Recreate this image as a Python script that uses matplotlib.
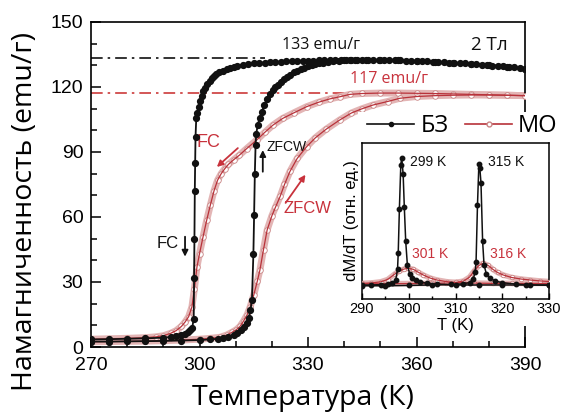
import matplotlib
matplotlib.use("Agg")
import matplotlib.pyplot as plt
from matplotlib.lines import Line2D
from matplotlib.patches import Rectangle
from matplotlib.ticker import MultipleLocator

# --- main panel: M(T), 2 T ---
# БЗ (bulk), FC cooling branch
bz_fc_t = [390, 388.5, 387, 385.5, 384, 382.5, 381, 379.5, 378, 376.5, 375, 373.5, 372, 370.5,
           369, 367.5, 366, 364.5, 363, 361.5, 360, 358.5, 357, 355.5, 354, 352.5, 351, 349.5,
           348, 346.5, 345, 343.5, 342, 340.5, 339, 337.5, 336, 334.5, 333, 331.5, 330, 328.5,
           327, 325.5, 324, 322.5, 321, 319.5, 318, 316.5, 315, 313.5, 312, 310.5, 309.5, 308.5,
           307.5, 306.5, 305.5, 304.7, 304, 303.4, 302.8, 302.2, 301.6, 301.1, 300.6, 300.2,
           299.8, 299.4, 299.1, 298.9, 298.8, 298.7, 298.6, 298.5, 298.4, 298.0, 297.4, 296.8,
           296, 295, 293.5, 292, 290, 285, 280, 275, 270]
bz_fc_m = [128.5, 128.8, 129.0, 129.3, 129.5, 129.7, 129.9, 130.1, 130.3, 130.5, 130.7, 130.9,
           131.0, 131.2, 131.3, 131.5, 131.6, 131.7, 131.8, 131.9, 132.0, 132.1, 132.2, 132.3,
           132.3, 132.4, 132.4, 132.5, 132.5, 132.5, 132.5, 132.5, 132.5, 132.5, 132.5, 132.4,
           132.4, 132.3, 132.3, 132.2, 132.2, 132.1, 132.0, 131.9, 131.8, 131.7, 131.6, 131.4,
           131.3, 131.1, 130.9, 130.6, 130.2, 129.7, 129.2, 128.7, 128.2, 127.5, 126.7, 125.9,
           125.0, 124.1, 122.8, 121.4, 119.7, 118.0, 115.8, 113.5, 110.8, 108.0, 105.5, 97, 85,
           72, 50, 32, 13, 9, 7.8, 7.0, 6.2, 5.5, 5.0, 4.6, 4.3, 4.0, 3.8, 3.6, 3.5]
# БЗ, ZFCW heating branch
bz_zf_t = [270, 275, 280, 285, 290, 295, 300, 303, 305, 306.5, 308, 309.5, 310.5, 311.5,
           312.3, 313, 313.6, 314.1, 314.5, 314.9, 315.1, 315.3, 315.5, 315.7, 316.1, 316.6,
           317.2, 317.9, 318.7, 319.5, 320.4, 321, 321.7, 322.5, 323.3, 324.1, 325, 326, 327,
           328, 329, 330, 331, 332, 333, 334.2, 335.5, 337, 338.5, 340, 341.5, 343, 346, 350,
           355, 360, 365, 370, 375, 380, 385, 390]
bz_zf_m = [2.5, 2.5, 2.6, 2.7, 2.8, 3.0, 3.2, 3.5, 3.8, 4.2, 4.8, 5.6, 6.5, 7.8, 9.2, 11,
           13.5, 17, 21.7, 43, 61, 80, 93, 98.5, 102.5, 105.5, 108.5, 111.5, 114.3, 116.6,
           118.6, 119.8, 121.0, 122.4, 123.5, 124.5, 125.7, 126.7, 127.6, 128.3, 128.9, 129.5,
           130.0, 130.5, 130.9, 131.3, 131.7, 132.0, 132.2, 132.4, 132.5, 132.5, 132.5, 132.4,
           132.3, 132.0, 131.6, 131.2, 130.7, 130.3, 129.4, 128.5]
# МО (ribbon), FC cooling branch
mo_fc_t = [390, 385, 380, 375, 370, 365, 360, 355, 350, 345, 341.6, 338.8, 336, 333, 329.6,
           326, 323, 320.3, 318, 315.8, 313, 311, 309.5, 308, 307, 306, 305, 304, 303, 302,
           301, 300, 299.3, 298.6, 297.9, 297, 296, 295, 293.5, 292, 290, 288, 285, 280,
           275, 270]
mo_fc_m = [116.0, 116.2, 116.4, 116.6, 116.8, 117.0, 117.1, 117.2, 117.2, 117.0, 116.6,
           115.5, 114.5, 113.0, 110.9, 108.0, 105.5, 102.4, 99.0, 95.5, 91.5, 88.5, 86.5,
           84.3, 82.3, 80.0, 77.0, 72.0, 65.5, 58.6, 51.0, 43.0, 37.0, 27.0, 18.5, 14.0,
           11.5, 9.5, 7.5, 6.3, 5.2, 4.7, 4.3, 4.0, 3.8, 3.6]
# МО, ZFCW heating branch
mo_zf_t = [270, 275, 280, 285, 290, 295, 300, 303, 305.7, 307.5, 309, 310.2, 311.2, 312.2,
           313.2, 314, 315, 316, 316.7, 317.7, 318.7, 320, 321, 322.3, 323.5, 325, 327,
           329.6, 332, 335, 338.8, 342, 345, 348, 352, 355.4, 360, 365, 370, 375, 380, 385, 390]
mo_zf_m = [2.4, 2.5, 2.6, 2.7, 2.9, 3.2, 3.6, 4.0, 4.5, 5.5, 6.8, 8.0, 9.5, 12.0, 15.0,
           18.5, 24.0, 30.5, 35.5, 45.0, 54.0, 60.5, 64.5, 69.5, 75.0, 81.0, 87.0, 92.4,
           96.5, 100.5, 104.8, 108.0, 110.0, 111.7, 113.3, 114.8, 115.6, 116.0, 116.2,
           116.3, 116.3, 116.2, 116.0]

M_SAT_BZ, M_SAT_MO = 133.4, 117.4

# --- inset: dM/dT (arb. units) ---
in_bz_fc_t = [290, 292, 294, 295.5, 296.5, 297.2, 297.6, 297.75, 298.0, 298.3, 298.5, 298.8,
              299.05, 299.35, 299.7, 300.2, 300.8, 301.5, 302.5, 304, 306, 310, 315, 320, 325, 330]
in_bz_fc_d = [0.09, 0.09, 0.092, 0.095, 0.10, 0.12, 0.19, 0.295, 0.58, 0.86, 0.906, 0.80,
              0.59, 0.37, 0.22, 0.16, 0.135, 0.12, 0.11, 0.10, 0.095, 0.09, 0.09, 0.09, 0.09, 0.09]
in_bz_zf_t = [290, 295, 300, 305, 309, 311.5, 313, 313.8, 314.2, 314.4, 314.7, 315.0, 315.2,
              315.45, 315.8, 316.1, 316.6, 317.3, 318.5, 320, 323, 326, 330]
in_bz_zf_d = [0.085, 0.085, 0.087, 0.09, 0.093, 0.097, 0.105, 0.13, 0.17, 0.24, 0.60, 0.863,
              0.84, 0.745, 0.37, 0.22, 0.16, 0.135, 0.115, 0.105, 0.095, 0.09, 0.088]
in_mo_fc_t = [290, 292, 294, 295.5, 297, 298, 299, 299.9, 301, 302, 303.1, 304.5, 306, 308.1,
              310, 314, 318, 322, 326, 330]
in_mo_fc_d = [0.10, 0.103, 0.11, 0.125, 0.16, 0.18, 0.192, 0.197, 0.19, 0.172, 0.154, 0.135,
              0.122, 0.111, 0.106, 0.102, 0.10, 0.10, 0.10, 0.10]
in_mo_zf_t = [290, 295, 300, 305, 308, 310, 311.7, 313, 314, 315, 315.9, 317, 318, 319, 320.2,
              322, 324, 325.9, 328, 330]
in_mo_zf_d = [0.098, 0.098, 0.099, 0.10, 0.102, 0.106, 0.115, 0.14, 0.18, 0.215, 0.229, 0.215,
              0.19, 0.17, 0.154, 0.138, 0.128, 0.122, 0.116, 0.112]

BLACK = "#111111"
RED = "#c8323c"
RED_LINE = "#b8323a"
PINK = "#e3b5b5"
PINK_E = "#c98585"
ARIAL = ["Liberation Sans", "DejaVu Sans"]
CALIBRI = ["Open Sans", "DejaVu Sans"]

plt.rcParams["font.family"] = ARIAL
W, H = 563, 412


def ribbon(a, t, m, width, ms):
    a.plot(t, m, color=PINK, lw=width, solid_capstyle="round", zorder=2)
    a.plot(t, m, "o", ms=ms, mfc="white", mec=PINK_E, mew=0.6, zorder=3)
    a.plot(t, m, color=RED_LINE, lw=0.9, zorder=4)


def beads(a, t, m, ms):
    a.plot(t, m, color=BLACK, lw=1.3, marker="o", ms=ms, mfc=BLACK, mec=BLACK, zorder=5)


fig = plt.figure(figsize=(W / 100, H / 100), dpi=100)
ax = fig.add_axes([91 / W, 1 - 347 / H, 434 / W, 325 / H])

ribbon(ax, mo_fc_t, mo_fc_m, 5, 4)
ribbon(ax, mo_zf_t, mo_zf_m, 5, 4)
beads(ax, bz_fc_t, bz_fc_m, 4.2)
beads(ax, bz_zf_t, bz_zf_m, 4.2)

ax.hlines(M_SAT_BZ, 270, 318, colors=BLACK, linestyles=(0, (7, 3, 1.5, 3)), lw=1.2, zorder=1)
ax.hlines(M_SAT_MO, 270, 342, colors="#cc3a3a", linestyles=(0, (7, 3, 1.5, 3)), lw=1.2, zorder=1)

ax.set_xlim(270, 390)
ax.set_ylim(0, 150)
ax.xaxis.set_major_locator(MultipleLocator(30))
ax.xaxis.set_minor_locator(MultipleLocator(10))
ax.yaxis.set_major_locator(MultipleLocator(30))
ax.yaxis.set_minor_locator(MultipleLocator(10))
ax.tick_params(which="both", direction="in", labelsize=14, width=1.1)
ax.tick_params(which="major", length=7)
ax.tick_params(axis="x", pad=7)
ax.tick_params(axis="y", pad=5.5)
ax.tick_params(which="minor", length=4)
for s in ax.spines.values():
    s.set_linewidth(1.2)
ax.set_xlabel("Температура (К)", family=CALIBRI, fontsize=20.5)
ax.set_ylabel("Намагниченность (emu/г)", family=CALIBRI, fontsize=20.5)
ax.xaxis.set_label_coords(0.488, -0.113)
ax.yaxis.set_label_coords(-0.119, 0.418)

ax.text(333.5, 139.2, "133 emu/г", family=CALIBRI, fontsize=11.5, color=BLACK, ha="center", va="center")
ax.text(352.5, 123.6, "117 emu/г", family=CALIBRI, fontsize=11.5, color=RED, ha="center", va="center")
ax.text(380, 139.4, "2 Тл", family=CALIBRI, fontsize=13.5, color=BLACK, ha="center", va="center")

ax.text(302.6, 94.6, "FC", fontsize=13, color=RED, ha="center", va="center")
ax.text(330, 63.7, "ZFCW", fontsize=12, color=RED, ha="center", va="center")
ax.text(324.2, 92.3, "ZFCW", fontsize=10, color=BLACK, ha="center", va="center")
ax.text(291.3, 47.8, "FC", fontsize=12, color=BLACK, ha="center", va="center")

arrow = dict(arrowstyle="-|>", lw=1.3, mutation_scale=9, shrinkA=0, shrinkB=0)
ax.annotate("", xy=(304.8, 83.1), xytext=(310.6, 91.8), arrowprops=dict(arrow, color=RED))
ax.annotate("", xy=(329.3, 79.5), xytext=(323.8, 66.5), arrowprops=dict(arrow, color=RED))
ax.annotate("", xy=(317.5, 90.9), xytext=(317.5, 80.9), arrowprops=dict(arrow, color=BLACK))
ax.annotate("", xy=(296.0, 41.7), xytext=(296.0, 50.9), arrowprops=dict(arrow, color=BLACK))

# white area behind legend and inset
fig.add_artist(Rectangle((358 / W, 1 - 326 / H), (W - 358) / W, (326 - 112) / H,
                         transform=fig.transFigure, facecolor="white", edgecolor="none", zorder=1))

handles = [Line2D([], [], color=BLACK, lw=1.2, marker="o", ms=3, mfc=BLACK),
           Line2D([], [], color=RED_LINE, lw=1.2, marker="o", ms=3.5, mfc="white", mec=PINK_E)]
leg = fig.legend(handles, ["БЗ", "МО"], ncol=2, loc="center",
                 bbox_to_anchor=(462.5 / W, 1 - 126 / H), frameon=False,
                 prop={"family": CALIBRI, "size": 17}, handlelength=2.0,
                 handletextpad=0.25, columnspacing=0.7, borderpad=0, borderaxespad=0)
leg.set_zorder(5)

# --- inset ---
axin = fig.add_axes([362 / W, 1 - 299 / H, 187 / W, 156 / H])
axin.set_zorder(2)
ribbon(axin, in_mo_fc_t, in_mo_fc_d, 4, 3.2)
ribbon(axin, in_mo_zf_t, in_mo_zf_d, 4, 3.2)
axin.plot(in_bz_fc_t, in_bz_fc_d, color=BLACK, lw=1.1, marker="o", ms=3.2, zorder=5)
axin.plot(in_bz_zf_t, in_bz_zf_d, color=BLACK, lw=1.1, marker="o", ms=3.2, zorder=5)
axin.set_xlim(290, 330)
axin.set_ylim(0, 1)
axin.xaxis.set_major_locator(MultipleLocator(10))
axin.xaxis.set_minor_locator(MultipleLocator(5))
axin.set_yticks([])
axin.tick_params(which="both", direction="in", labelsize=10.5, width=1.0, pad=2.5)
axin.tick_params(which="major", length=4)
axin.tick_params(which="minor", length=2.5)
for s in axin.spines.values():
    s.set_linewidth(1.1)
axin.set_xlabel("T (K)", fontsize=12, labelpad=1)
axin.set_ylabel("dM/dT (отн. ед.)", fontsize=12, labelpad=2)

axin.text(300.3, 0.875, "299 K", fontsize=10, color=BLACK, va="center")
axin.text(317.0, 0.875, "315 K", fontsize=10, color=BLACK, va="center")
axin.text(300.6, 0.29, "301 K", fontsize=10, color=RED, va="center")
axin.text(317.4, 0.29, "316 K", fontsize=10, color=RED, va="center")

fig.savefig("out.png", dpi=100)
